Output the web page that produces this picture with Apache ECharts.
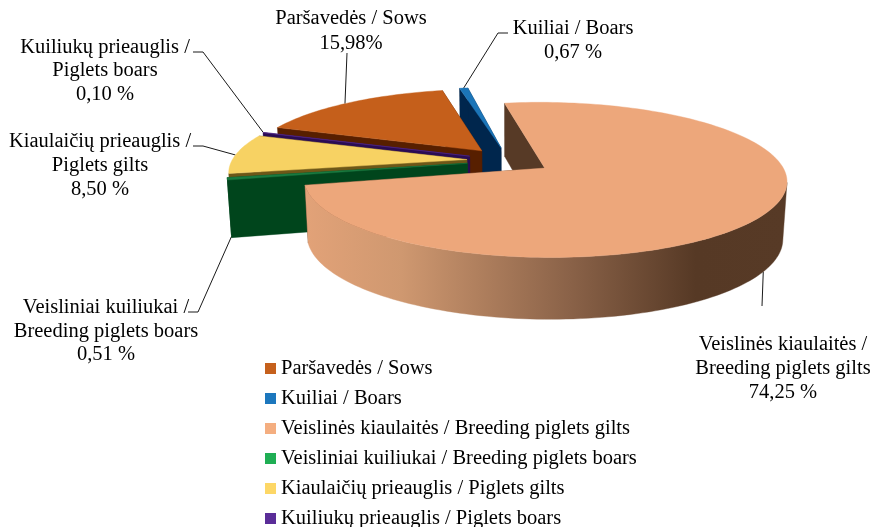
<!DOCTYPE html>
<html><head><meta charset="utf-8">
<style>html,body{margin:0;padding:0;background:#fff}#c{width:872px;height:527px}</style>
<script src="https://cdn.jsdelivr.net/npm/echarts@6/dist/echarts.min.js"></script>
</head><body><div id="c"></div>
<script>
// Data, in the clockwise order of the pie
const categories = ['Paršavedės / Sows','Kuiliai / Boars','Veislinės kiaulaitės / Breeding piglets gilts','Veisliniai kuiliukai / Breeding piglets boars','Kiaulaičių prieauglis / Piglets gilts','Kuiliukų prieauglis / Piglets boars'];
const values = [15.98,0.67,74.25,0.51,8.50,0.10];
const valueTexts = ['15,98%','0,67 %','74,25 %','0,51 %','8,50 %','0,10 %'];
const labelNames = ['Paršavedės / Sows','Kuiliai / Boars','Veislinės kiaulaitės /\nBreeding piglets gilts','Veisliniai kuiliukai /\nBreeding piglets boars','Kiaulaičių prieauglis /\nPiglets gilts','Kuiliukų prieauglis /\nPiglets boars'];

// Styles
const legendColors = ['#C5601C','#1C77BD','#F4AE80','#1FAE54','#FDD766','#5A2D98'];
const topColors    = ['#C55F1B','#1B75B8','#EDA77B','#1A7A40','#F7D263','#5B2D91'];
const wallColors   = ['#571F00','#00264D','#573A26','#00451C','#6D5718','#2A0C53'];

// Pie geometry (a tilted perspective view of a circle)
const FONT = '20.5px "Liberation Serif","Times New Roman",serif';
const C = {x:509,y:160.6,a:235,b:73.5,k:0.15,depth:56.5,shrink:0.985,explode:0.18,startDeg:-69.8};
const total = values.reduce((s,v)=>s+v,0);
const starts = []; { let acc = C.startDeg; values.forEach(v=>{starts.push(acc); acc += v/total*360;}); }
const sweep = i => values[i]/total*360;
const rad = d => d*Math.PI/180;

function project(u,v,low){
  const s = 1/(1-C.k*v);
  let x = C.a*u*s, y = C.b*v*s;
  if(low){ x *= C.shrink; y += C.depth*Math.sqrt(s); }
  return [C.x+x, C.y+y];
}
function offset(i){ const m = rad(starts[i]+sweep(i)/2); return [C.explode*Math.sin(m), -C.explode*Math.cos(m)]; }
function rim(i,deg,low){ const o = offset(i), t = rad(deg); return project(o[0]+Math.sin(t), o[1]-Math.cos(t), low); }
function apex(i,low){ const o = offset(i); return project(o[0],o[1],low); }

// Label layout per category: text centre, line height, elbow points, anchor on slice
const labelLayout = [
  {x:351,y:31,lh:25.5,path:[[347,53]],frac:0.48,low:false},
  {x:573,y:40.5,lh:23.5,path:[[508,33],[498,33]],frac:0.5,low:false},
  {x:783,y:369,lh:24,path:[[762,306]],frac:0.495,low:true},
  {x:106,y:331.5,lh:23.5,path:[[188,312],[198,312]],frac:0.5,low:true},
  {x:100,y:166,lh:24,path:[[193,146],[203,146]],frac:0.47,low:false},
  {x:105,y:71,lh:23.5,path:[[193,52],[203,52]],frac:0.5,low:false}
];

function renderSlice(i){
  return function(params,api){
    const s0 = starts[i], sw = api.value(0)/total*360, n = Math.max(2,Math.ceil(sw/1.5));
    const upper=[], lowerFront=[], upperFront=[];
    for(let j=0;j<=n;j++){
      const d=s0+sw*j/n;
      upper.push(rim(i,d,false));
      // only the part of the outer wall that faces the viewer, between the silhouette points
      if(-Math.cos(rad(d))>=0.17){ upperFront.push(rim(i,d,false)); lowerFront.push(rim(i,d,true)); }
    }
    const A=apex(i,false), B=apex(i,true);
    const poly=(pts,fill)=>({type:'polygon',shape:{points:pts},style:{fill:fill,stroke:fill,lineWidth:0.4},silent:true});
    let outerFill = wallColors[i];
    if(i===2) outerFill = new echarts.graphic.LinearGradient(0,0,1,0,[
      {offset:0,color:'#E2A278'},{offset:0.2,color:'#CF9870'},{offset:0.55,color:'#8A6248'},{offset:0.81,color:'#563925'},{offset:1,color:'#573A26'}]);
    const L = labelLayout[i];
    const anchor = rim(i,s0+sw*L.frac,L.low);
    const children = [
      {type:'polyline',shape:{points:[...L.path,anchor]},style:{fill:null,stroke:'#1a1a1a',lineWidth:1},silent:true},
      {type:'text',style:{text:labelNames[i]+'\n'+valueTexts[i],x:L.x,y:L.y,align:'center',verticalAlign:'middle',font:FONT,lineHeight:L.lh,fill:'#000'},silent:true},
      poly([A,upper[0],rim(i,s0,true),B],wallColors[i]),
      poly([A,upper[n],rim(i,s0+sw,true),B],wallColors[i])
    ];
    if(upperFront.length>1) children.push(poly(upperFront.concat(lowerFront.slice().reverse()),outerFill));
    children.push(poly([A].concat(upper),topColors[i]));
    return {type:'group',children:children};
  };
}

const paintOrder = [1,0,5,4,3,2];
const chart = echarts.init(document.getElementById('c'));
chart.setOption({
  animation:false,
  backgroundColor:'#fff',
  legend:{
    orient:'vertical',left:265,top:358,height:200,padding:0,itemWidth:11,itemHeight:11,itemGap:9,icon:'rect',
    data:categories,selectedMode:false,
    textStyle:{fontFamily:'"Liberation Serif","Times New Roman",serif',fontSize:20.5,color:'#000'}
  },
  series:paintOrder.map((i,z)=>({
    type:'custom',name:categories[i],coordinateSystem:'none',silent:true,z:2+z,clip:false,
    itemStyle:{color:legendColors[i]},
    data:[[values[i]]],
    renderItem:renderSlice(i)
  }))
});
</script></body></html>
